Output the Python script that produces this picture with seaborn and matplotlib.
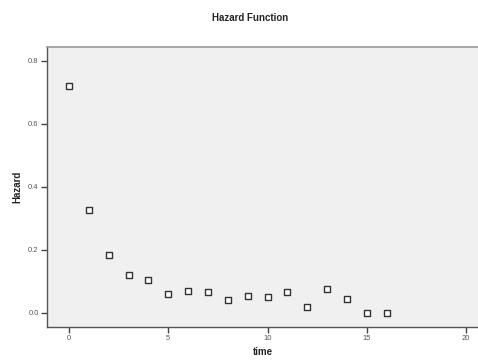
import matplotlib
matplotlib.use("Agg")
import matplotlib.pyplot as plt
import seaborn as sns
import pandas as pd

# Значения
time = [0, 1, 2, 3, 4, 5, 6, 7, 8, 9, 10, 11, 12, 13, 14, 15, 16]
hazard = [0.721, 0.325, 0.184, 0.119, 0.103, 0.059, 0.070, 0.066, 0.041,
          0.053, 0.049, 0.065, 0.017, 0.076, 0.044, 0.0, 0.0]
x_ticks = [0, 5, 10, 15, 20]
y_ticks = [0.0, 0.2, 0.4, 0.6, 0.8]

data = pd.DataFrame({"time": time, "Hazard": hazard})

sns.set_style("white")
plt.rcParams['font.family'] = ['Liberation Sans', 'DejaVu Sans']

fig = plt.figure(figsize=(4.78, 3.64), dpi=100)
# правый край области уходит за край картинки
ax = fig.add_axes([0.0983, 0.1016, 0.9017, 0.7694])
ax.set_facecolor("#f0f0f0")

sns.scatterplot(data=data, x="time", y="Hazard", ax=ax, marker="s", s=20,
                facecolor="white", edgecolor="#333333", linewidth=1.0)

ax.set_xlim(-1.11, 20.6)
ax.set_ylim(-0.045, 0.844)
ax.set_xticks(x_ticks)
ax.set_yticks(y_ticks)
ax.set_xticklabels([str(t) for t in x_ticks])
ax.set_yticklabels([f"{t:.1f}" for t in y_ticks])
ax.tick_params(axis="both", length=4, width=1, color="#444444",
               labelsize=5.5, labelcolor="#555555", pad=2, direction="out")
ax.tick_params(left=True, bottom=True)

for side in ["left", "bottom"]:
    ax.spines[side].set_color("#555555")
    ax.spines[side].set_linewidth(1.0)
ax.spines["top"].set_color("#999999")
ax.spines["top"].set_linewidth(1.2)
ax.spines["right"].set_visible(False)

ax.set_xlabel("time", fontsize=7, fontweight="bold", labelpad=3)
ax.set_ylabel("Hazard", fontsize=7, fontweight="bold", labelpad=4)
fig.suptitle("Hazard Function", fontsize=7, fontweight="bold", x=0.523, y=0.965)

fig.savefig("out.png", dpi=100)
